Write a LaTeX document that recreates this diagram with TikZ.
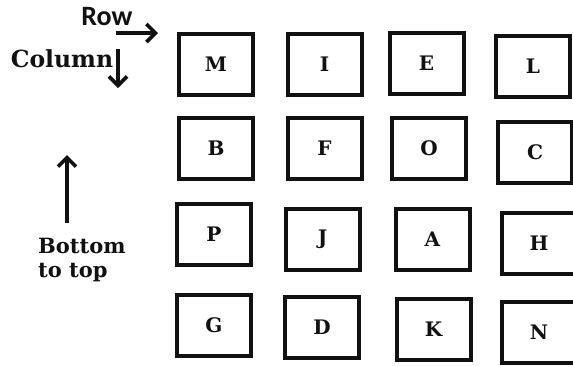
\documentclass[tikz,border=0pt]{standalone}
\usepackage{fontspec}
\setmainfont{DejaVu Serif}
\newfontfamily\rowfont{Carlito}
\usetikzlibrary{positioning,arrows.meta}
\definecolor{inkblk}{HTML}{111111}

\begin{document}
\begin{tikzpicture}[
      x=1pt, y=-1pt,
      cell/.style={draw=inkblk, line width=4pt, minimum width=74pt, minimum height=61pt,
                   inner sep=0pt, text=inkblk, font=\bfseries\fontsize{20}{24}\selectfont},
      lbl/.style={anchor=base, inner sep=0pt, text=inkblk, font=\bfseries\fontsize{21}{25}\selectfont},
      arr/.style={-{Straight Barb[length=9pt, width=18pt]}, line width=3.6pt, draw=inkblk}
    ]
    \useasboundingbox (0,0) rectangle (573,365);
    \clip (0,0) rectangle (573,365);
    % ------------- Direction labels -------------
    \node[lbl, font=\rowfont\bfseries\fontsize{28}{32}\selectfont] (row) at (107,25) {Row};
    \node[lbl, font=\bfseries\fontsize{23.5}{28}\selectfont] (col) at (62,67) {Column};
    \node[lbl, anchor=base west] (bot1) at (38,253) {Bottom};
    \node[lbl, anchor=base west] (bot2) at (38,277) {to top};
    \coordinate (rowS) at (116,33);
    \coordinate (rowE) at (158,33);
    \coordinate (colS) at (118,49);
    \coordinate (colE) at (118,88);
    \coordinate (botS) at (67,223);
    \coordinate (botE) at (67,155);
    \draw[arr] (rowS) -- (rowE);
    \draw[arr] (colS) -- (colE);
    \draw[arr] (botS) -- (botE);
    % ------------- Row 1 -------------
    \node[cell] (m) at (216,64.5) {M};
    \node[cell] (i) at (324.5,64) {I};
    \node[cell] (e) at (426.5,63) {E};
    \node[cell] (l) at (533,66) {L};
    % ------------- Row 2 -------------
    \node[cell] (b) at (216,148) {B};
    \node[cell] (f) at (324.5,148) {F};
    \node[cell] (o) at (429,148) {O};
    \node[cell] (c) at (535,152) {C};
    % ------------- Row 3 -------------
    \node[cell] (p) at (214,234.5) {P};
    \node[cell] (j) at (322.5,239.5) {J};
    \node[cell] (a) at (432.5,239.5) {A};
    \node[cell] (h) at (539,243.5) {H};
    % ------------- Row 4 -------------
    \node[cell] (g) at (214,325) {G};
    \node[cell] (d) at (322,327.5) {D};
    \node[cell] (k) at (433.5,329) {K};
    \node[cell] (n) at (539,332.5) {N};
\end{tikzpicture}
\end{document}
